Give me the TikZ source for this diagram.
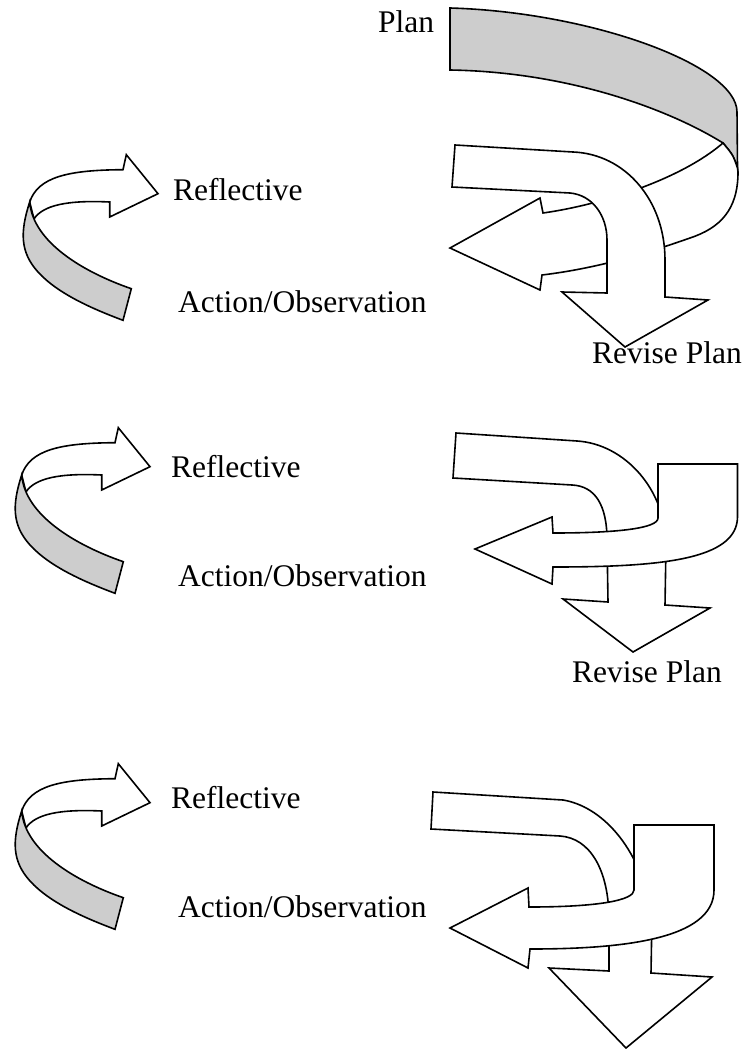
\documentclass[tikz,border=0pt]{standalone}
\usepackage{fontspec}
\setmainfont{Liberation Serif}
\definecolor{ribbon}{RGB}{205,205,205}
\newcommand{\smallarrow}[1]{%
  \begin{scope}[shift={#1}]
    \path[whitebody] (115,442.7) -- (118.3,427.7) -- (150,466.7) -- (101.7,490) -- (101.7,475)
      .. controls (60,473) and (35,478) .. (26,492) -- (21.7,475)
      .. controls (30,450) and (60,443) .. (115,442.7) -- cycle;
    \path[greyband] (21.7,475) .. controls (12,505) and (12,525) .. (30,545)
      .. controls (50,567) and (85,582) .. (115,593.3) -- (123.3,561.7)
      .. controls (75,545) and (25,515) .. (21.7,475) -- cycle;
  \end{scope}}
\begin{document}
\begin{tikzpicture}[x=1pt,y=-1pt,
  whitebody/.style={draw=black,line width=1.6pt,fill=white},
  greyband/.style={draw=black,line width=1.6pt,fill=ribbon},
  lbl/.style={anchor=base west,inner sep=0pt,font=\fontsize{31.5}{36}\selectfont}]
\useasboundingbox (0,0) rectangle (746,1049);

% ---------- set 1 ----------
\smallarrow{(8,-273)}
% plan ribbon (back, grey)
\path[greyband] (450,8) .. controls (590,12) and (737,65) .. (737,112) -- (737.5,168)
  .. controls (733,155) .. (723,143)
  .. controls (670,110) and (570,72) .. (450,70) -- cycle;
% front band with left arrowhead
\path[whitebody] (723,143) .. controls (733,155) .. (737.5,168) -- (738,172)
  .. controls (738,210) and (720,228) .. (690,238)
  .. controls (650,252) and (600,268) .. (542,275)
  -- (540,290) -- (450,248) -- (540,198) -- (543,213)
  .. controls (600,205) and (680,180) .. (723,143) -- cycle;
% big bent down arrow
\path[whitebody] (455,145) -- (573,152) .. controls (625,154) and (665,200) .. (665,260)
  -- (665,297) -- (708,300) -- (625,347) -- (562,292) -- (607,293) -- (607,240)
  .. controls (607,215) and (592,195) .. (570,193) -- (452,187) -- cycle;

% ---------- set 2 ----------
\smallarrow{(0,0)}
\path[whitebody] (456,433) -- (577,441) .. controls (625,444) and (666,490) .. (666,545)
  -- (665,605) -- (710,608) -- (633,652) -- (563,599) -- (608,602) -- (607,540)
  .. controls (607,505) and (595,486) .. (572,485) -- (453,478) -- cycle;
\path[whitebody] (658,464) -- (737.5,464) -- (737.5,517)
  .. controls (737,560) and (660,567) .. (553,567) -- (552,584) -- (475,549) -- (552,517) -- (553,533)
  .. controls (620,533) and (658,528) .. (658,518) -- cycle;

% ---------- set 3 ----------
\smallarrow{(0,336)}
\path[whitebody] (433,792) -- (563,800) .. controls (600,806) and (640,845) .. (652,915)
  -- (651,973) -- (712,977) -- (626,1048) -- (549,968) -- (609,971) -- (609,920)
  .. controls (609,870) and (590,838) .. (560,836) -- (431,829) -- cycle;
\path[whitebody] (634,825) -- (714,825) -- (714,890)
  .. controls (714,940) and (620,949) .. (530,949) -- (528,968) -- (450,928) -- (528,888) -- (529,907)
  .. controls (600,907) and (634,900) .. (634,890) -- cycle;

% ---------- labels ----------
\node[lbl] (plan) at (378,33) {Plan};
\node[lbl] (refl1) at (173,200) {Reflective};
\node[lbl] (act1) at (178,312) {Action/Observation};
\node[lbl] (rev1) at (592,363) {Revise Plan};
\node[lbl] (refl2) at (171,477) {Reflective};
\node[lbl] (act2) at (178,586) {Action/Observation};
\node[lbl] (rev2) at (572,682) {Revise Plan};
\node[lbl] (refl3) at (171,808) {Reflective};
\node[lbl] (act3) at (178,917) {Action/Observation};
\end{tikzpicture}
\end{document}
